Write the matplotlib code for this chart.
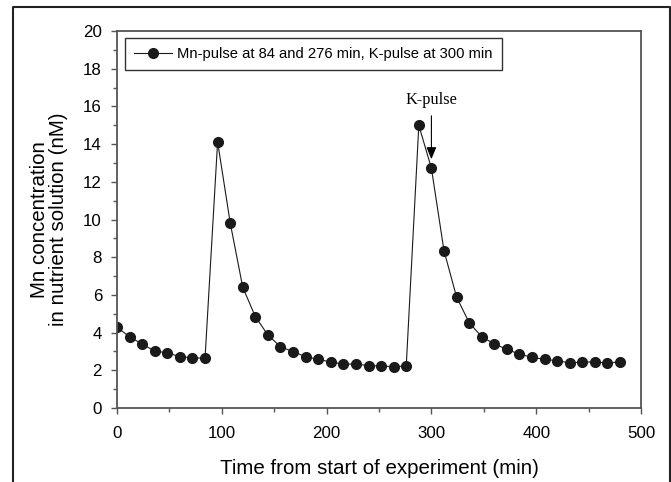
import matplotlib
matplotlib.use("Agg")
import matplotlib.pyplot as plt
from matplotlib.lines import Line2D
from matplotlib.ticker import MultipleLocator

# sampling times (min) and Mn concentration (nM)
time_min = [0, 12, 24, 36, 48, 60, 72, 84, 96, 108, 120, 132, 144, 156, 168,
            180, 192, 204, 216, 228, 240, 252, 264, 276, 288, 300, 312, 324,
            336, 348, 360, 372, 384, 396, 408, 420, 432, 444, 456, 468, 480]
mn_nM = [4.28, 3.78, 3.39, 3.02, 2.93, 2.72, 2.67, 2.63, 14.12, 9.83, 6.40,
         4.85, 3.87, 3.25, 2.99, 2.72, 2.58, 2.44, 2.33, 2.33, 2.25, 2.23, 2.19,
         2.23, 15.0, 12.72, 8.35, 5.89, 4.53, 3.78, 3.40, 3.11, 2.86, 2.69,
         2.58, 2.51, 2.39, 2.44, 2.44, 2.39, 2.44]

legend_label = "Mn-pulse at 84 and 276 min, K-pulse at 300 min"
k_pulse_time = 300

plt.rcParams['font.family'] = ['Liberation Sans', 'DejaVu Sans']

fig = plt.figure(figsize=(6.71, 4.82), dpi=100)
ax = fig.add_axes([117 / 671, 74 / 482, 524 / 671, 377 / 482])

ax.plot(time_min, mn_nM, color='#1a1a1a', lw=0.8, marker='o', ms=7,
        mfc='#1a1a1a', mec='#1a1a1a', label=legend_label)

ax.set_xlim(0, 500)
ax.set_ylim(0, 20)
ax.xaxis.set_major_locator(MultipleLocator(100))
ax.xaxis.set_minor_locator(MultipleLocator(50))
ax.yaxis.set_major_locator(MultipleLocator(2))
ax.yaxis.set_minor_locator(MultipleLocator(1))
ax.tick_params(which='major', length=4.3, width=1, color='#555555',
               labelsize=12.2)
ax.tick_params(which='minor', length=2.6, width=1, color='#555555')
ax.tick_params(axis='x', which='major', pad=8.5)
ax.tick_params(axis='y', which='major', pad=6.5)
for s in ax.spines.values():
    s.set_color('#555555')
    s.set_linewidth(1.3)

ax.set_xlabel("Time from start of experiment (min)", fontsize=14.8, labelpad=13)
ax.set_ylabel("Mn concentration\nin nutrient solution (nM)", fontsize=14.8,
              linespacing=1.0, labelpad=11)

leg = ax.legend(loc='upper left', bbox_to_anchor=(0.0153, 0.981),
                borderaxespad=0, fontsize=10.6, fancybox=False,
                edgecolor='#333333', framealpha=1, handlelength=2.6,
                handletextpad=0.35, borderpad=0.6, markerscale=1.0)
leg.get_frame().set_linewidth(1.0)

# K-pulse label and arrow
ax.text(k_pulse_time, 15.9, "K-pulse", ha='center', va='bottom',
        fontsize=11.8, family='Liberation Serif')
ax.annotate("", xy=(k_pulse_time, 13.2), xytext=(k_pulse_time, 15.5),
            arrowprops=dict(arrowstyle='-|>,head_length=0.6,head_width=0.25',
                            color='black', lw=0.8, shrinkA=0, shrinkB=0,
                            mutation_scale=12))

# outer frame of the figure panel (left, top, right)
fig.add_artist(Line2D([13 / 671, 13 / 671, 670 / 671, 670 / 671],
                      [0, 1 - 7 / 482, 1 - 7 / 482, 0],
                      color='#222222', lw=1.5, transform=fig.transFigure))

fig.savefig("out.png", dpi=100)
